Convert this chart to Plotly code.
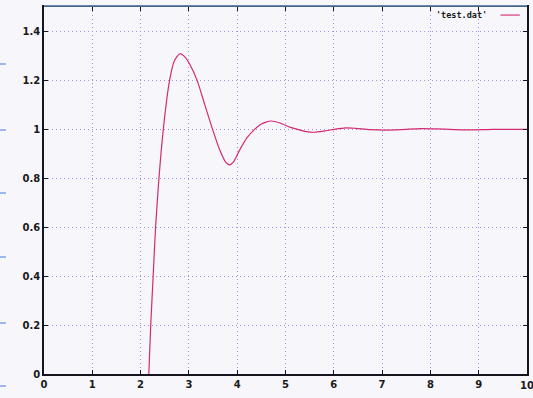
import plotly.graph_objects as go

# Sampled step response from test.dat
t_values = [2.17, 2.21, 2.26, 2.31, 2.38, 2.47, 2.60, 2.70, 2.81, 2.92, 3.02, 3.17,
            3.33, 3.49, 3.65, 3.76, 3.84, 3.92, 4.05, 4.20, 4.36, 4.50, 4.70, 4.90,
            5.10, 5.25, 5.40, 5.60, 5.80, 6.01, 6.25, 6.45, 6.75, 7.05, 7.40, 7.80,
            8.10, 8.50, 8.85, 9.30, 10.0]
y_values = [0.0, 0.2, 0.4, 0.6, 0.8, 1.0, 1.2, 1.28, 1.309, 1.295, 1.265, 1.2,
            1.10, 1.0, 0.91, 0.866, 0.855, 0.866, 0.915, 0.965, 1.0, 1.022, 1.034, 1.025,
            1.008, 1.0, 0.992, 0.988, 0.993, 1.0, 1.006, 1.004, 0.999, 0.997, 0.999, 1.003,
            1.002, 0.999, 0.998, 1.0, 1.0]

x_ticks = [0, 1, 2, 3, 4, 5, 6, 7, 8, 9, 10]
y_ticks = [0, 0.2, 0.4, 0.6, 0.8, 1, 1.2, 1.4]
y_tick_text = ["0", "0.2", "0.4", "0.6", "0.8", "1", "1.2", "1.4"]
series_name = "'test.dat'"

line_color = "#d42a72"
grid_color = "#a98ce8"
bg = "#f7f6fb"
tick_font = dict(family="DejaVu Sans", size=10, color="#1a1a1a", weight="bold")

fig = go.Figure()
fig.add_trace(go.Scatter(
    x=t_values, y=y_values, mode="lines",
    line=dict(color=line_color, width=1.2, shape="spline", smoothing=0.6),
    showlegend=False, cliponaxis=True,
))

axis_common = dict(
    showgrid=True, gridcolor=grid_color, griddash="1px,3px", gridwidth=1.2,
    showline=True, linecolor="#151520", linewidth=1.5, mirror="ticks",
    ticks="inside", ticklen=4, tickcolor="#151520",
    tickfont=tick_font, zeroline=False, fixedrange=True, automargin=False,
)
fig.update_xaxes(range=[0, 10], tickvals=x_ticks,
                 ticktext=[str(v) for v in x_ticks], **axis_common)
fig.update_yaxes(range=[0, 1.5], tickvals=y_ticks, ticktext=y_tick_text,
                 **axis_common)

# the last x label sits at the frame edge, where the axis would drop it
fig.add_annotation(
    x=x_ticks[-1], xref="x", y=0, yref="paper", yanchor="top", xanchor="center",
    yshift=-4, text=str(x_ticks[-1]), showarrow=False, font=tick_font,
)

# key: label followed by a line sample, top right inside the frame
fig.add_annotation(
    x=0.921, y=0.978, xref="paper", yref="paper", xanchor="right", yanchor="middle",
    text=series_name, showarrow=False,
    font=dict(family="DejaVu Sans Mono", size=8.5, color="#1a1a1a", weight="bold"),
)
fig.add_shape(type="line", xref="paper", yref="paper",
              x0=0.945, x1=0.985, y0=0.978, y1=0.978,
              line=dict(color=line_color, width=1.1))

# light blue trim along the top edge of the frame
fig.add_shape(type="line", xref="paper", yref="paper", x0=0, x1=1, y0=1.003, y1=1.003,
              line=dict(color="#7fb2e2", width=1.2))

# small blue marks along the left margin
for yp in [64, 130, 193, 257, 323, 386]:
    fig.add_shape(type="line", xref="paper", yref="paper",
                  x0=-44 / 483, x1=-38 / 483,
                  y0=(374 - yp) / 367, y1=(374 - yp) / 367,
                  line=dict(color="#9db6ee", width=2))

fig.update_layout(
    width=533, height=398,
    margin=dict(l=44, r=6, t=7, b=24),
    paper_bgcolor=bg, plot_bgcolor=bg,
    showlegend=False,
)

fig.write_html("out.html")
